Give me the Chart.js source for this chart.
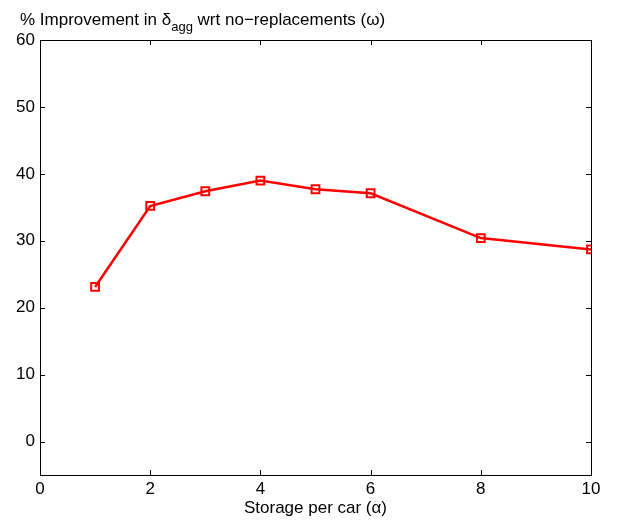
<!DOCTYPE html>
<html>
<head>
<meta charset="utf-8">
<script src="https://cdn.jsdelivr.net/npm/chart.js@4/dist/chart.umd.min.js"></script>
<style>
  html, body { margin: 0; padding: 0; background: #fff; }
  #wrap { width: 623px; height: 521px; }
</style>
</head>
<body>
<div id="wrap"><canvas id="myChart" width="623" height="521"></canvas></div>
<script>
'use strict';

// data
const storage = [1, 2, 3, 4, 5, 6, 8, 10];
const improvement = [23.1, 35.2, 37.4, 39.0, 37.7, 37.1, 30.4, 28.7];
const xTicks = [0, 2, 4, 6, 8, 10];
const yTicks = [0, 10, 20, 30, 40, 50, 60];

const FONT = 'Liberation Sans, Arial, Helvetica, sans-serif';

// matlab style box with inward ticks + the y label with subscript
const boxPlugin = {
    id: 'box',
    afterDraw(chart) {
        const c = chart.ctx;
        const a = chart.chartArea;
        const xs = chart.scales.x, ys = chart.scales.y;
        const len = 5;
        c.save();
        c.strokeStyle = '#000';
        c.lineWidth = 1;
        c.strokeRect(a.left + 0.5, a.top + 0.5, a.right - a.left, a.bottom - a.top);
        c.beginPath();
        xTicks.forEach(v => {
            const px = Math.round(xs.getPixelForValue(v)) + 0.5;
            c.moveTo(px, a.bottom); c.lineTo(px, a.bottom - len);
            c.moveTo(px, a.top); c.lineTo(px, a.top + len);
        });
        yTicks.forEach(v => {
            const py = Math.round(ys.getPixelForValue(v)) + 0.5;
            c.moveTo(a.left, py); c.lineTo(a.left + len, py);
            c.moveTo(a.right, py); c.lineTo(a.right - len, py);
        });
        c.stroke();

        // y label: % Improvement in δ_agg wrt no−replacements (ω)
        c.fillStyle = '#000';
        c.textBaseline = 'alphabetic';
        c.textAlign = 'left';
        c.font = '17px ' + FONT;
        let x = 20;
        const base = 25;
        const part1 = '% Improvement in \u03b4';
        c.fillText(part1, x, base);
        x += c.measureText(part1).width;
        c.font = '13px ' + FONT;
        c.fillText('agg', x, base + 6);
        x += c.measureText('agg').width;
        c.font = '17px ' + FONT;
        c.fillText(' wrt no\u2212replacements (\u03c9)', x, base);
        c.restore();
    }
};

const ctx = document.getElementById('myChart').getContext('2d');

const myChart = new Chart(ctx, {
    type: 'line',
    data: {
        datasets: [{
            data: storage.map((s, i) => ({ x: s, y: improvement[i] })),
            borderColor: '#ff0000',
            borderWidth: 2.5,
            pointStyle: 'rect',
            pointRadius: 5.5,
            pointBorderWidth: 2,
            pointBorderColor: '#ff0000',
            pointBackgroundColor: 'rgba(255,255,255,0)',
            tension: 0
        }]
    },
    plugins: [boxPlugin],
    options: {
        responsive: false,
        animation: false,
        layout: { padding: { left: 0, top: 40, right: 32, bottom: 0 } },
        plugins: { legend: { display: false }, tooltip: { enabled: false } },
        scales: {
            x: {
                type: 'linear',
                min: 0,
                max: 10,
                afterBuildTicks: s => { s.ticks = xTicks.map(v => ({ value: v })); },
                afterFit: s => { s.height = 46; },
                grid: { display: false, drawTicks: false },
                border: { display: false },
                ticks: { color: '#000', padding: 4, maxRotation: 0, font: { size: 17, family: FONT } },
                title: {
                    display: true,
                    text: 'Storage per car (\u03b1)',
                    color: '#000',
                    font: { size: 17, family: FONT },
                    padding: { top: 0, bottom: 2 }
                }
            },
            y: {
                min: -5,
                max: 60,
                afterBuildTicks: s => { s.ticks = yTicks.map(v => ({ value: v })); },
                afterFit: s => { s.width = 40; },
                grid: { display: false, drawTicks: false },
                border: { display: false },
                ticks: { color: '#000', padding: 5, font: { size: 17, family: FONT } }
            }
        }
    }
});
</script>
</body>
</html>
